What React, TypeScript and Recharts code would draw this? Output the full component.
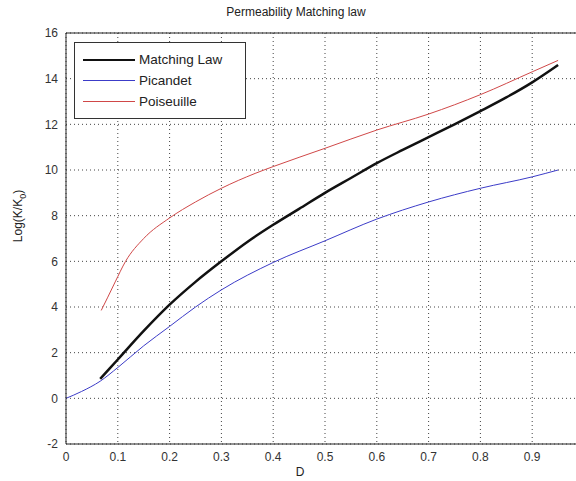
import { LineChart, Line, XAxis, YAxis, CartesianGrid, ReferenceLine } from "recharts"

// porosity values (x) and log permeability ratio (y)
const dMatching = [0.066, 0.1, 0.15, 0.2, 0.25, 0.3, 0.35, 0.4, 0.45, 0.5, 0.55, 0.6, 0.65, 0.7, 0.75, 0.8, 0.85, 0.9, 0.95]
const kMatching = [0.85, 1.7, 2.95, 4.1, 5.1, 6.0, 6.85, 7.6, 8.3, 9.0, 9.65, 10.3, 10.88, 11.44, 12.0, 12.58, 13.18, 13.84, 14.6]

const dPicandet = [0, 0.03, 0.066, 0.1, 0.15, 0.2, 0.25, 0.3, 0.4, 0.5, 0.6, 0.7, 0.8, 0.9, 0.95]
const kPicandet = [0, 0.3, 0.75, 1.35, 2.3, 3.15, 4.0, 4.75, 5.95, 6.9, 7.85, 8.6, 9.2, 9.7, 10.0]

const dPoiseuille = [0.068, 0.08, 0.095, 0.115, 0.15, 0.2, 0.25, 0.3, 0.365, 0.4, 0.5, 0.6, 0.7, 0.8, 0.9, 0.95]
const kPoiseuille = [3.85, 4.4, 5.1, 6.0, 7.0, 7.9, 8.6, 9.2, 9.85, 10.15, 10.95, 11.75, 12.45, 13.3, 14.3, 14.8]

const xTicks = [0, 0.1, 0.2, 0.3, 0.4, 0.5, 0.6, 0.7, 0.8, 0.9]
const yTicks = [-2, 0, 2, 4, 6, 8, 10, 12, 14, 16]

const series = [
  { name: "Matching Law", color: "#111111", width: 2.5, d: dMatching, k: kMatching },
  { name: "Picandet", color: "#3c3cc8", width: 1, d: dPicandet, k: kPicandet },
  { name: "Poiseuille", color: "#d04848", width: 1, d: dPoiseuille, k: kPoiseuille },
]

const font = "'Liberation Sans', Arial, sans-serif"

function LegendBox() {
  return (
    <div
      style={{
        position: "absolute",
        left: 74,
        top: 42,
        width: 156,
        border: "1px solid #333",
        background: "#fff",
        padding: "6px 6px 6px 8px",
        fontFamily: font,
        fontSize: 13.5,
        color: "#222",
        lineHeight: "21px",
      }}
    >
      {series.map((s) => (
        <div key={s.name} style={{ display: "flex", alignItems: "center" }}>
          <span
            style={{
              display: "inline-block",
              width: 52,
              height: 0,
              borderTop: `${s.width}px solid ${s.color}`,
              marginRight: 4,
            }}
          />
          {s.name}
        </div>
      ))}
    </div>
  )
}

export default function App() {
  return (
    <div
      style={{
        position: "absolute",
        left: 0,
        top: 0,
        width: 576,
        height: 481,
        overflow: "hidden",
        background: "#fff",
      }}
    >
      <LineChart
        width={600}
        height={481}
        margin={{ top: 33, right: 16, bottom: 17, left: 16 }}
        style={{ fontFamily: font }}
      >
        <CartesianGrid stroke="#444" strokeDasharray="1 3" />
        <XAxis
          type="number"
          dataKey="d"
          domain={[0, 1]}
          ticks={xTicks}
          allowDataOverflow
          height={20}
          stroke="#222"
          tickLine={false}
          tick={{ fontSize: 12, fill: "#333" }}
          tickFormatter={(v: number) => String(v)}
        />
        <YAxis
          type="number"
          domain={[-2, 16]}
          ticks={yTicks}
          width={50}
          stroke="#222"
          tickLine={false}
          tick={{ fontSize: 12, fill: "#333" }}
        />
        <ReferenceLine y={16} stroke="#222" />
        {series.map((s) => (
          <Line
            key={s.name}
            type="monotone"
            data={s.d.map((d, i) => ({ d, k: s.k[i] }))}
            dataKey="k"
            name={s.name}
            stroke={s.color}
            strokeWidth={s.width}
            dot={false}
            isAnimationActive={false}
          />
        ))}
      </LineChart>
      <LegendBox />
      <svg
        width={576}
        height={481}
        style={{ position: "absolute", left: 0, top: 0, pointerEvents: "none" }}
      >
        <text x={296} y={16} textAnchor="middle" fontSize={12} fontFamily={font} fill="#222">
          Permeability Matching law
        </text>
        <text x={300} y={476} textAnchor="middle" fontSize={12} fontFamily={font} fill="#222">
          D
        </text>
        <text
          transform="translate(22 216) rotate(-90)"
          textAnchor="middle"
          fontSize={12}
          fontFamily={font}
          fill="#222"
        >
          Log(K/K<tspan fontSize={9} dy={4}>0</tspan>
          <tspan dy={-4}>)</tspan>
        </text>
      </svg>
    </div>
  )
}
